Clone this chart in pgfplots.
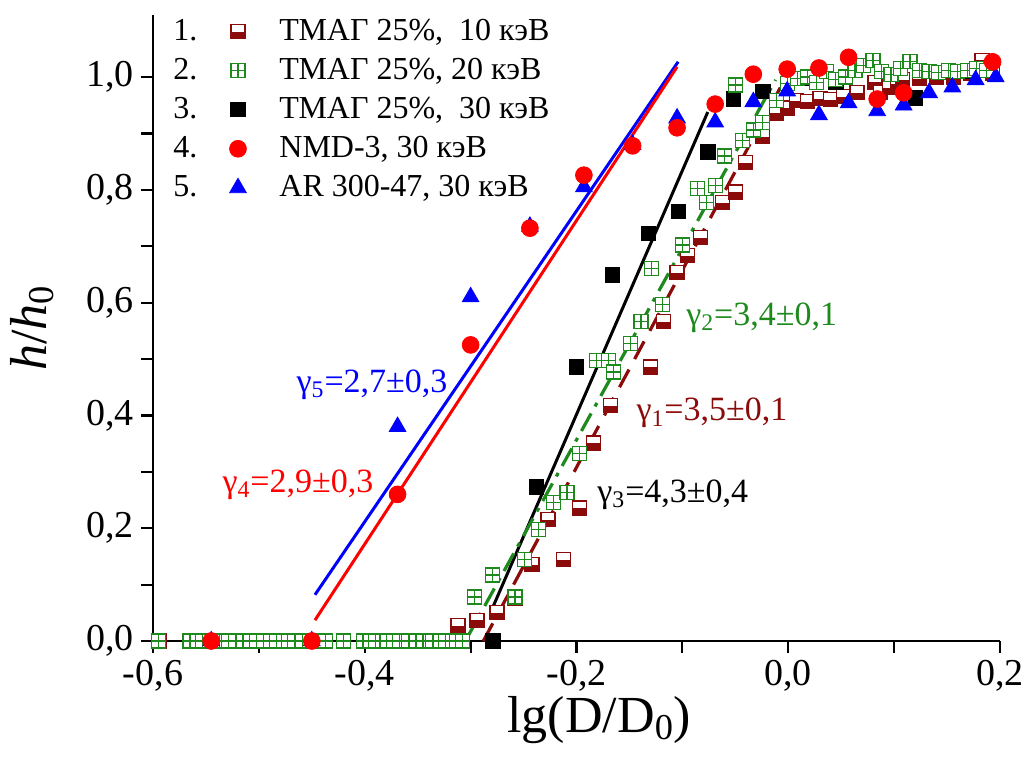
\documentclass[border=0pt]{standalone}
\usepackage{fontspec}
\setmainfont{Liberation Serif}
\usepackage{pgfplots}
\pgfplotsset{compat=1.18}
\usetikzlibrary{plotmarks}

\definecolor{dred}{HTML}{8B0A0A}
\definecolor{dgreen}{HTML}{1E8A1E}

% half filled square (series 1)
\pgfdeclareplotmark{hsq}{%
  \pgfsetfillcolor{white}%
  \pgfpathrectangle{\pgfpoint{-\pgfplotmarksize}{-\pgfplotmarksize}}{\pgfpoint{2\pgfplotmarksize}{2\pgfplotmarksize}}%
  \pgfusepathqfillstroke
  \pgfsetfillcolor{dred}%
  \pgfpathrectangle{\pgfpoint{-\pgfplotmarksize}{-\pgfplotmarksize}}{\pgfpoint{2\pgfplotmarksize}{0.95\pgfplotmarksize}}%
  \pgfusepathqfill}
% square with a cross (series 2)
\pgfdeclareplotmark{bplus}{%
  \pgfsetfillcolor{white}%
  \pgfpathrectangle{\pgfpoint{-\pgfplotmarksize}{-\pgfplotmarksize}}{\pgfpoint{2\pgfplotmarksize}{2\pgfplotmarksize}}%
  \pgfusepathqfillstroke
  \pgfpathmoveto{\pgfpoint{-\pgfplotmarksize}{0pt}}\pgfpathlineto{\pgfpoint{\pgfplotmarksize}{0pt}}%
  \pgfpathmoveto{\pgfpoint{0pt}{-\pgfplotmarksize}}\pgfpathlineto{\pgfpoint{0pt}{\pgfplotmarksize}}%
  \pgfusepathqstroke}

\pgfplotsset{
  numleg/.style={legend image code/.code={%
    \node[anchor=west, inner sep=0pt, text=black] at (0pt,0pt) {#1.};
    \draw[##1] plot[only marks] coordinates {(32.5pt,0pt)};
    \path (51pt,0pt);}},
  s1/.style={only marks, mark=hsq, mark size=3.5pt, draw=dred, mark options={line width=0.6pt}},
  s2/.style={only marks, mark=bplus, mark size=3.5pt, draw=dgreen, mark options={line width=0.6pt}},
  s3/.style={only marks, mark=square*, mark size=3.6pt, black},
  s4/.style={only marks, mark=*, mark size=4.2pt, red},
  s5/.style={only marks, mark=triangle*, mark size=4.8pt, blue},
}

\begin{document}
\begin{tikzpicture}
\begin{axis}[
  scale only axis, width=423.5pt, height=313pt,
  xmin=-0.6, xmax=0.2, ymin=0, ymax=1.11,
  axis lines*=left,
  axis line style={line width=1.1pt},
  tick align=outside,
  tick style={line width=1.1pt, black},
  major tick length=6pt, minor tick length=6pt,
  xtick={-0.6,-0.4,-0.2,0,0.2}, minor xtick={-0.5,-0.3,-0.1,0.1},
  ytick={0,0.2,0.4,0.6,0.8,1.0}, minor ytick={0.1,0.3,0.5,0.7,0.9},
  /pgf/number format/.cd, fixed, fixed zerofill, precision=1, use comma, assume math mode=true,
  /pgfplots/.cd,
  ticklabel style={font=\fontsize{19}{21}\selectfont},
  xlabel={lg(D/D\textsubscript{0})},
  ylabel={\textit{h}/\textit{h}\textsubscript{0}},
  label style={font=\fontsize{26}{30}\selectfont},
  every axis x label/.append style={at={(axis description cs:0.527,-0.146)}, anchor=base, inner sep=0pt},
  every axis y label/.append style={at={(axis description cs:-0.143,0.5)}, anchor=center},
  clip=false,
  legend style={draw=none, fill=none, at={(axis description cs:0,1)}, xshift=10pt,
    anchor=north west, inner sep=0pt, font=\fontsize{16}{19}\selectfont, row sep=3.4pt},
  legend cell align=left,
]
\coordinate (O) at (rel axis cs:0,0);

% series 1: ТМАГ 25%, 10 кэВ
\addplot[s1, forget plot] coordinates {
(-0.594,0) (-0.56,0) (-0.553,0) (-0.529,0) (-0.497,0) (-0.468,0) (-0.463,0) (-0.442,0)
(-0.42,0) (-0.395,0) (-0.373,0) (-0.351,0) (-0.336,0) (-0.331,0)
(-0.312,0.028) (-0.294,0.037) (-0.275,0.05) (-0.258,0.076) (-0.242,0.135) (-0.227,0.215)
(-0.212,0.145) (-0.197,0.236) (-0.184,0.351) (-0.168,0.418) (-0.13,0.486) (-0.118,0.566)
(-0.105,0.654) (-0.095,0.684) (-0.083,0.715) (-0.062,0.777) (-0.05,0.796) (-0.04,0.849)
(-0.024,0.894) (-0.011,0.936) (-0.001,0.945) (0.008,0.959) (0.018,0.956) (0.03,0.962)
(0.04,0.96) (0.052,0.965) (0.065,0.973) (0.082,0.991) (0.087,0.973) (0.096,0.982)
(0.103,0.989) (0.108,0.995) (0.124,0.998) (0.14,1.0) (0.156,1.0) (0.172,1.007)
(0.183,1.03) (0.193,1.007)
};
% series 3: ТМАГ 25%, 30 кэВ
\addplot[s3, forget plot] coordinates {
(-0.279,0) (-0.238,0.273) (-0.2,0.486) (-0.166,0.649) (-0.132,0.723) (-0.104,0.762)
(-0.076,0.867) (-0.052,0.961) (-0.024,0.975) (0.021,0.998) (0.045,0.99) (0.12,0.963) (0.165,1.01)
};
% series 2: ТМАГ 25%, 20 кэВ
\addplot[s2, forget plot] coordinates {
(-0.595,0) (-0.565,0) (-0.558,0) (-0.553,0) (-0.537,0) (-0.529,0) (-0.515,0) (-0.508,0)
(-0.502,0) (-0.489,0) (-0.483,0) (-0.472,0) (-0.466,0) (-0.459,0) (-0.449,0) (-0.442,0)
(-0.437,0) (-0.42,0) (-0.401,0) (-0.395,0) (-0.39,0) (-0.379,0) (-0.373,0) (-0.367,0)
(-0.359,0) (-0.351,0) (-0.345,0) (-0.336,0) (-0.329,0) (-0.324,0) (-0.313,0) (-0.308,0)
(-0.296,0.078) (-0.279,0.117) (-0.258,0.078) (-0.249,0.145) (-0.236,0.197) (-0.222,0.245)
(-0.209,0.264) (-0.197,0.333) (-0.181,0.498) (-0.17,0.498) (-0.165,0.477) (-0.149,0.528)
(-0.139,0.566) (-0.129,0.661) (-0.119,0.596) (-0.1,0.702) (-0.086,0.803) (-0.077,0.777)
(-0.069,0.808) (-0.06,0.86) (-0.05,0.986) (-0.043,0.888) (-0.033,0.906) (-0.024,0.92)
(-0.011,0.959) (-0.001,0.989) (0.009,0.998) (0.018,1.0) (0.027,0.99) (0.036,1.01)
(0.045,0.995) (0.054,1.0) (0.063,1.012) (0.071,1.02) (0.08,1.03) (0.088,1.01)
(0.097,1.005) (0.106,1.015) (0.115,1.027) (0.124,1.012) (0.133,1.01) (0.142,1.008)
(0.151,1.012) (0.16,1.01) (0.169,1.012) (0.178,1.015) (0.187,1.012)
};
% series 5: AR 300-47, 30 кэВ
\addplot[s5, forget plot] coordinates {
(-0.545,0) (-0.45,0) (-0.369,0.38) (-0.30,0.61) (-0.244,0.735) (-0.193,0.805) (-0.147,0.88)
(-0.105,0.927) (-0.069,0.92) (-0.033,0.956) (-0.001,0.975) (0.029,0.933) (0.057,0.954)
(0.084,0.94) (0.109,0.95) (0.133,0.972) (0.155,0.982) (0.177,0.995) (0.196,1.0)
};
% series 4: NMD-3, 30 кэВ
\addplot[s4, forget plot] coordinates {
(-0.545,0) (-0.45,0) (-0.369,0.26) (-0.30,0.525) (-0.244,0.732) (-0.193,0.826) (-0.147,0.878)
(-0.105,0.91) (-0.069,0.952) (-0.033,1.005) (-0.001,1.014) (0.029,1.016) (0.057,1.035)
(0.084,0.961) (0.109,0.972) (0.193,1.027)
};

% linear fits
\addplot[blue, line width=1.5pt, forget plot] coordinates {(-0.447,0.082) (-0.104,1.027)};
\addplot[red, line width=1.5pt, forget plot] coordinates {(-0.447,0.037) (-0.105,1.018)};
\addplot[black, line width=1.5pt, forget plot] coordinates {(-0.279,0.06) (-0.076,0.938)};
\addplot[dgreen, line width=1.6pt, dash pattern=on 10pt off 4pt on 2pt off 4pt, forget plot] coordinates {(-0.305,0.0) (-0.012,0.995)};
\addplot[dred, line width=1.6pt, dash pattern=on 10pt off 6pt, forget plot] coordinates {(-0.288,0) (-0.005,0.99)};

\addlegendimage{s1, numleg=1}
\addlegendentry{ТМАГ 25\%,\ \ 10 кэВ}
\addlegendimage{s2, numleg=2}
\addlegendentry{ТМАГ 25\%, 20 кэВ}
\addlegendimage{s3, numleg=3}
\addlegendentry{ТМАГ 25\%,\ \ 30 кэВ}
\addlegendimage{s4, numleg=4}
\addlegendentry{NMD-3, 30 кэВ}
\addlegendimage{s5, numleg=5}
\addlegendentry{AR 300-47, 30 кэВ}

\begin{scope}[font=\fontsize{17}{20}\selectfont]
\node[anchor=west, blue] at (axis cs:-0.471,0.455) {γ\textsubscript{5}=2,7±0,3};
\node[anchor=west, red] at (axis cs:-0.541,0.277) {γ\textsubscript{4}=2,9±0,3};
\node[anchor=west, dgreen] at (axis cs:-0.103,0.573) {γ\textsubscript{2}=3,4±0,1};
\node[anchor=west, dred] at (axis cs:-0.150,0.404) {γ\textsubscript{1}=3,5±0,1};
\node[anchor=west, black] at (axis cs:-0.187,0.259) {γ\textsubscript{3}=4,3±0,4};
\end{scope}
\end{axis}
\pgfresetboundingbox
\path ([shift={(-76.5pt,-59.5pt)}]O) rectangle ([shift={(435.5pt,320.5pt)}]O);
\end{tikzpicture}
\end{document}
